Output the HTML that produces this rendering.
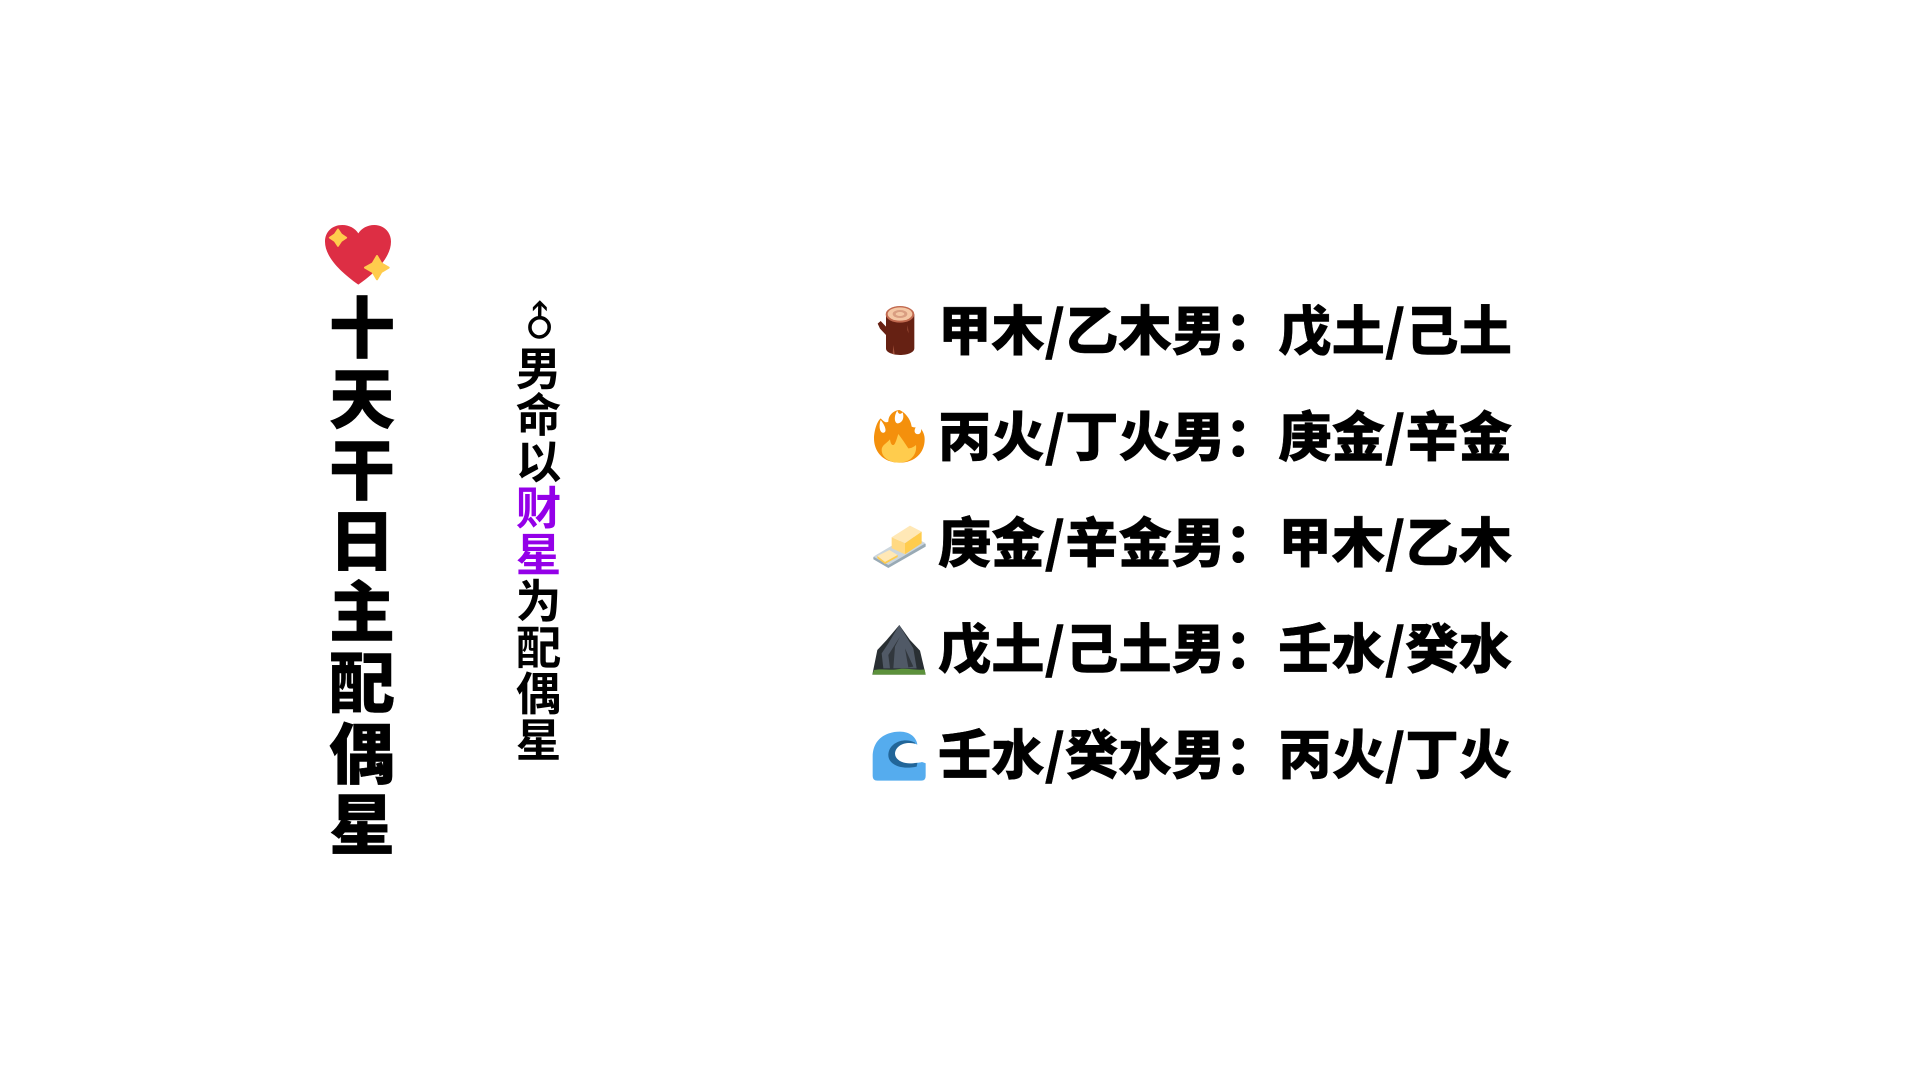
<!DOCTYPE html>
<html lang="zh"><head><meta charset="utf-8"><title>十天干日主配偶星</title>
<style>
html,body{margin:0;padding:0;background:#fff}
body{width:1920px;height:1080px;position:relative;overflow:hidden;font-family:"Liberation Sans","Noto Sans CJK SC",sans-serif;color:#000}
.a{position:absolute;white-space:nowrap;font-family:"Noto Sans CJK SC",sans-serif;line-height:1}
.t{left:327px;top:293.5px;width:70px;font-size:66px;letter-spacing:5px;font-weight:900;-webkit-text-stroke:.4px #000;writing-mode:vertical-rl;text-orientation:upright;line-height:70px}
.s{left:515.5px;top:344.5px;width:46px;font-size:45.5px;letter-spacing:.95px;font-weight:700;writing-mode:vertical-rl;text-orientation:upright;line-height:46px}
.s b{color:#9400e8;font-weight:700}
.m{left:522px;top:301px;width:32px;height:46px;line-height:46px;text-align:center;font-size:41px;font-family:"DejaVu Sans",sans-serif;transform:rotate(-45deg)}
.l{left:938px;font-size:53.3px;font-weight:900;-webkit-text-stroke:.4px #000;height:60px;line-height:60px}
svg{position:absolute;left:0;top:0}
</style></head><body>
<svg width="1920" height="1080" viewBox="0 0 1920 1080">
<g transform="translate(300 200) scale(.3333)">
<path d="M175 254C120 215 75 170 75 125C75 95 97 75 127 75C148 75 165 85 175 100C185 85 202 75 223 75C252 75 273 97 273 125C273 170 230 215 175 254Z" fill="#dd2e44"/>
<path d="M114 88L124 103L139 113L124 123L114 138L104 123L89 113L104 103Z" fill="#ffcc4d" stroke="#ffcc4d" stroke-width="5" stroke-linejoin="round"/>
<path d="M231 168L244 190L266 203L244 216L231 238L218 216L195 203L218 190Z" fill="#ffcc4d" stroke="#ffcc4d" stroke-width="6" stroke-linejoin="round"/>
</g>
<g transform="translate(860 280) scale(.3333)">
<path d="M78 103H163V205C163 218 140 225 120 225C100 225 78 218 78 205V165L60 146L53 131L62 123L78 140Z" fill="#662113"/>
<ellipse cx="120" cy="103" rx="43" ry="25" fill="#c1694f"/>
<ellipse cx="120" cy="102" rx="37" ry="20" fill="#f4c7a5"/>
<ellipse cx="120" cy="102" rx="22" ry="12" fill="#d99e82"/>
<ellipse cx="120" cy="102" rx="13" ry="6" fill="#f4c7a5"/>
<path d="M143 135L146 160L142 150ZM100 195L104 222L98 222Z" fill="#a0503a"/>
<path d="M118 548C70 548 42 515 42 475C42 455 50 425 62 415C72 425 78 430 85 425C85 405 100 392 118 390C132 395 152 415 155 440C165 445 175 440 180 442C190 455 194 465 194 478C194 518 165 548 118 548Z" fill="#f4900c"/>
<path d="M112 392C102 405 102 428 112 430C122 430 135 420 128 397C120 405 115 402 112 392Z" fill="#fff"/>
<path d="M62 420C55 440 60 462 72 458C80 455 78 440 62 420ZM178 428C165 440 158 458 170 462C180 465 190 455 178 428Z" fill="#fff"/>
<path d="M118 548C85 548 65 530 65 510C65 495 80 490 90 478C92 495 100 500 105 490C110 480 112 470 115 462C125 475 135 490 145 505C155 505 162 500 168 495C172 525 150 548 118 548Z" fill="#ffcc4d"/>
<path d="M40 832L150 770L197 792L197 800L85 864L40 838Z" fill="#99aab5"/>
<path d="M40 830L150 765L197 790L85 855Z" fill="#ccd6dd"/>
<path d="M95 772L150 737L185 755L135 790Z" fill="#ffe8b6"/>
<path d="M95 772L135 790V823L95 805Z" fill="#ffd983"/>
<path d="M135 790L185 755V790L135 823Z" fill="#ffcc4d"/>
<path d="M52 828L88 810L113 825L75 846Z" fill="#ffe8b6"/>
<path d="M52 828L75 846V852L52 835ZM75 846L113 825V831L75 852Z" fill="#ffcc4d"/>
</g>
<g transform="translate(860 580) scale(.3333)">
<path d="M118 135L150 180L180 212L197 284H37L52 210L80 180Z" fill="#292f33"/>
<path d="M118 135L145 180L160 205L170 265H70L65 220L85 190Z" fill="#505966"/>
<path d="M120 170L105 200L100 265H90L85 225ZM135 205L160 260L145 262Z" fill="#31373d"/>
<path d="M37 284L42 270C70 265 90 272 118 267C145 264 170 272 194 268L197 284Z" fill="#5c913b"/>
<path d="M52 602Q38 602 38 588V530C38 480 75 455 120 455C150 455 168 472 172 492L197 545V588Q197 602 184 602Z" fill="#55acee"/>
<path d="M165 488C130 470 85 490 85 525C85 555 125 570 170 560L175 535Z" fill="#226699"/>
<path d="M172 494C145 482 108 492 105 520C105 540 130 552 155 550C170 549 178 548 186 546L198 550V480H172Z" fill="#fff"/>
</g>
</svg>
<div class="a t">十天干日主配偶星</div>
<div class="a m">♂</div>
<div class="a s">男命以<b>财星</b>为配偶星</div>
<div class="a l" style="top:298px">甲木/乙木男：戊土/己土</div>
<div class="a l" style="top:404px">丙火/丁火男：庚金/辛金</div>
<div class="a l" style="top:510px">庚金/辛金男：甲木/乙木</div>
<div class="a l" style="top:616px">戊土/己土男：壬水/癸水</div>
<div class="a l" style="top:722px">壬水/癸水男：丙火/丁火</div>
</body></html>
